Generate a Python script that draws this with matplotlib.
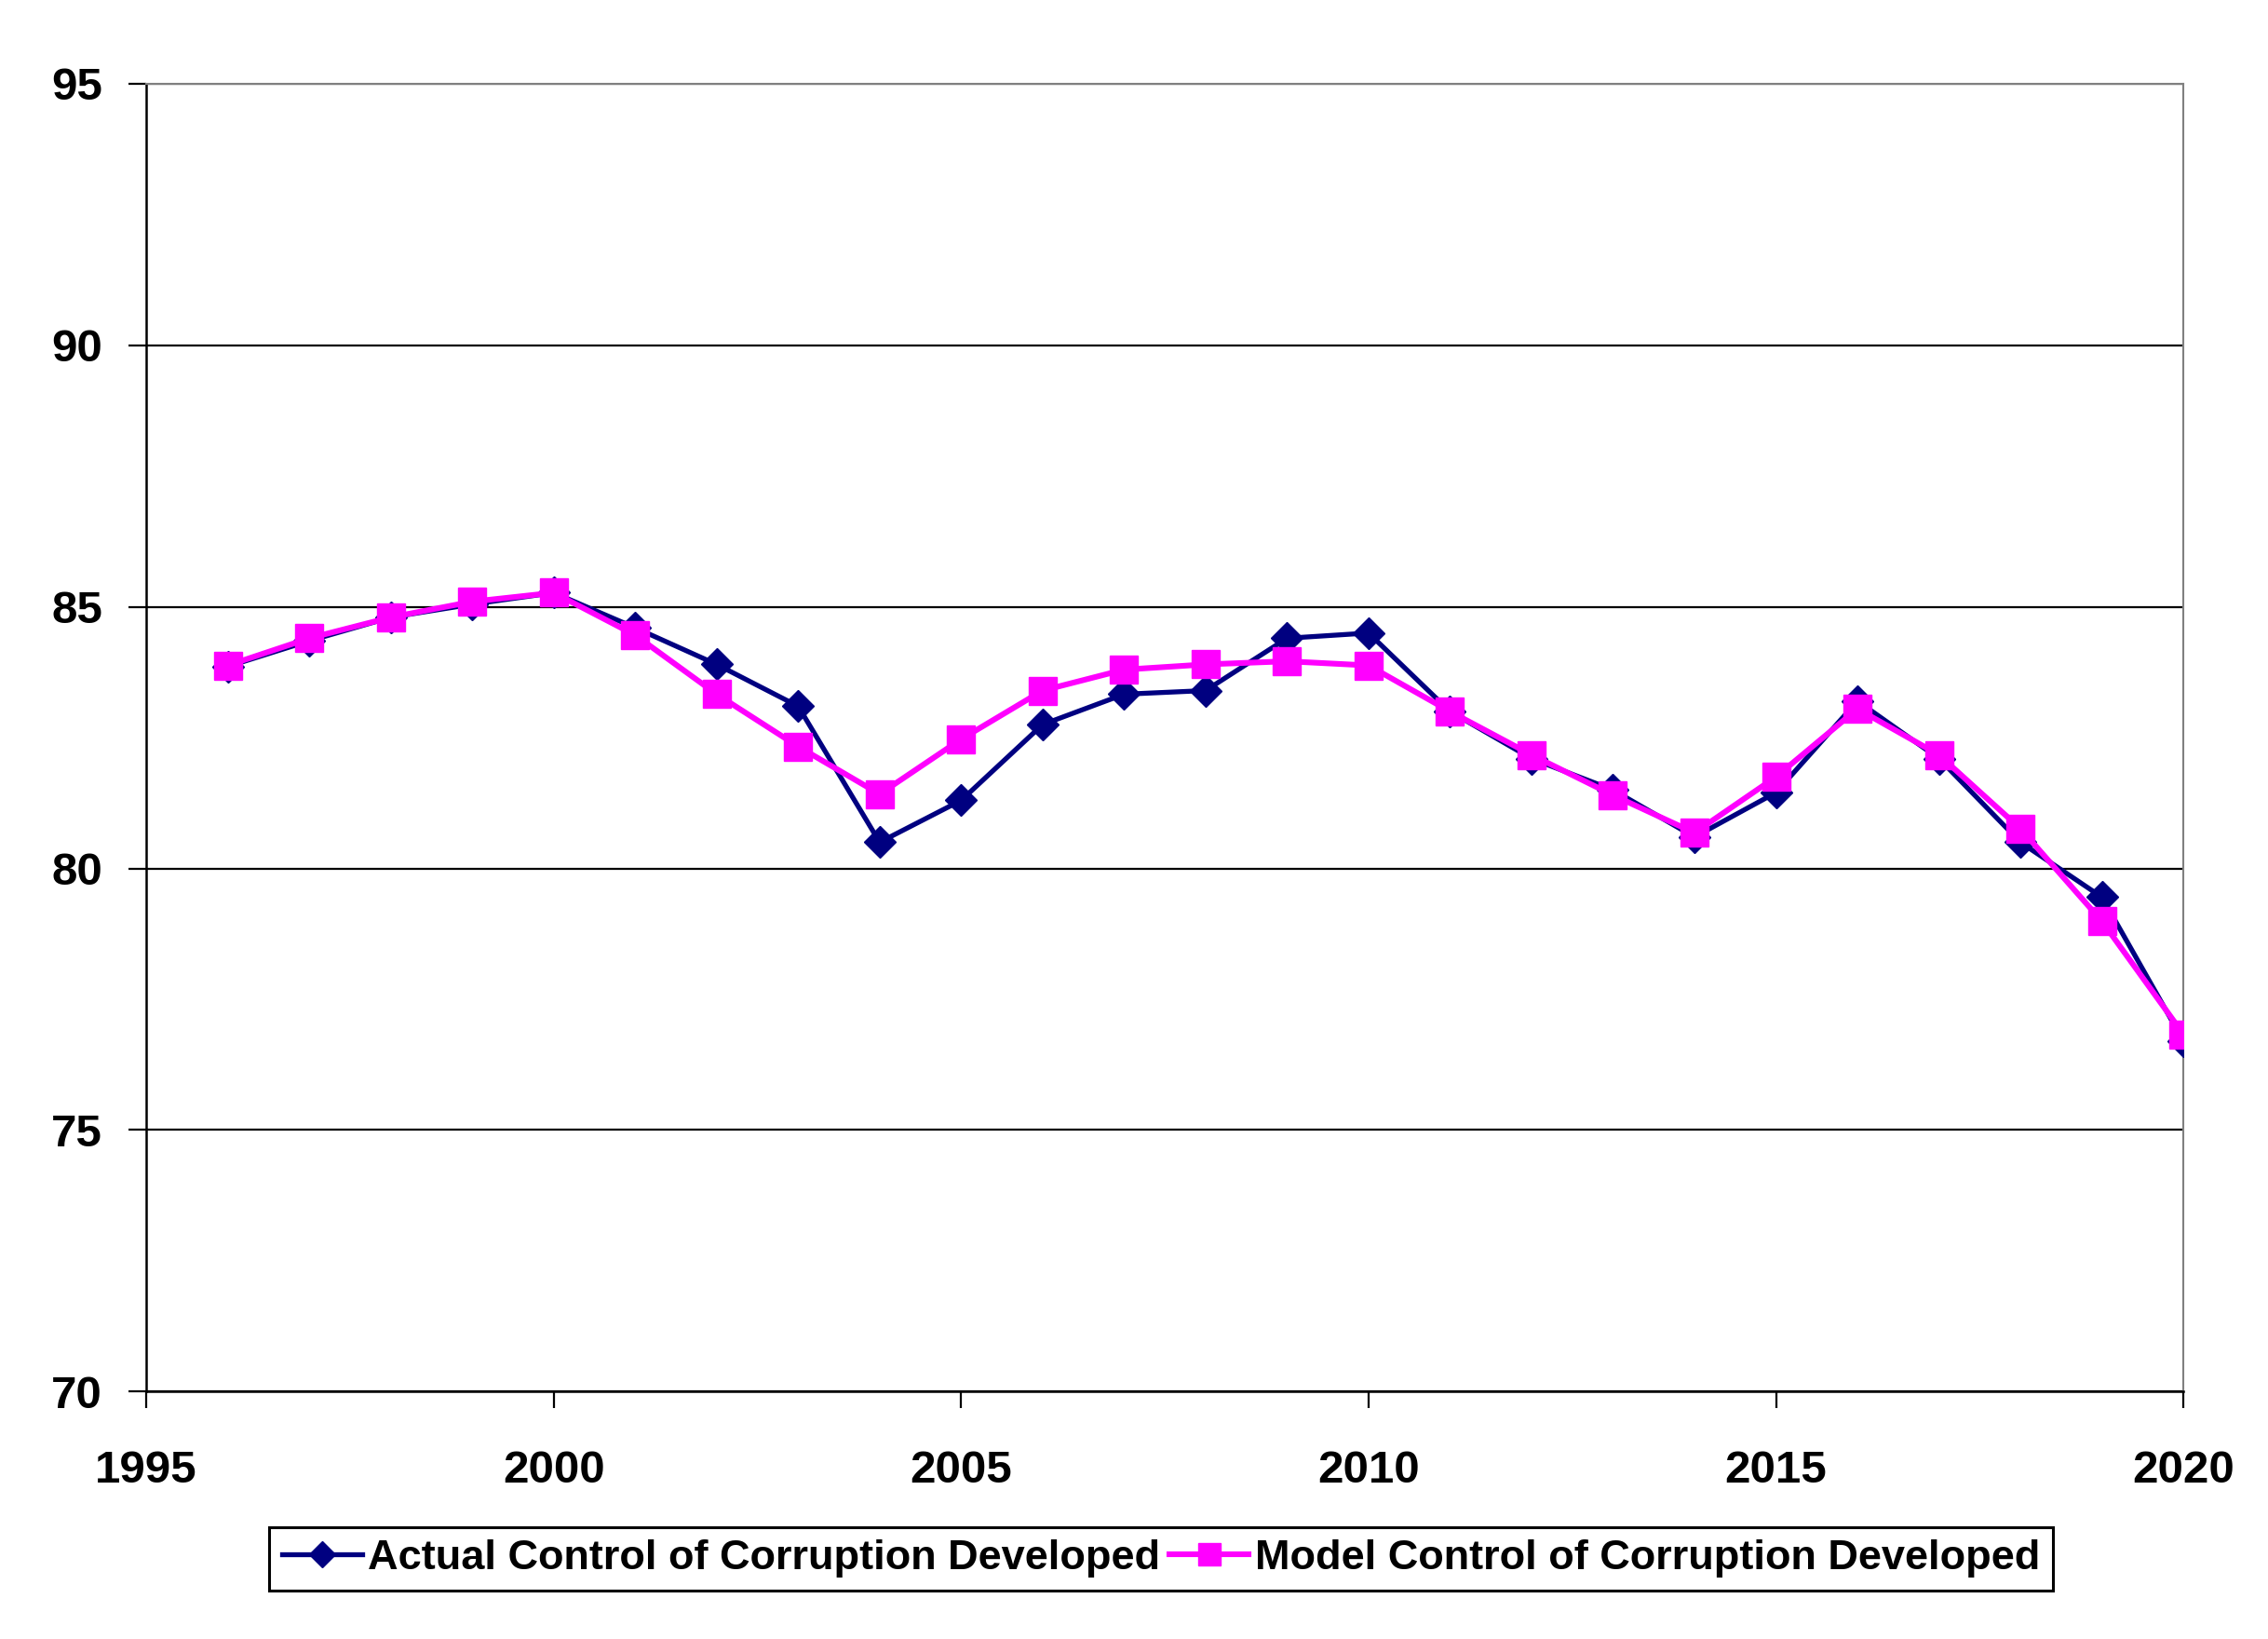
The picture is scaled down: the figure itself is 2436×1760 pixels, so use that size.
import matplotlib
matplotlib.use('Agg')
import matplotlib.pyplot as plt

NAVY = '#000080'
MAGENTA = '#FF00FF'

plt.rcParams['font.family'] = ['Liberation Sans', 'DejaVu Sans']
plt.rcParams['font.weight'] = 'bold'

years = list(range(1996, 2021))
actual = [83.86, 84.35, 84.8, 85.05, 85.27, 84.6, 83.9, 83.1, 80.5, 81.3,
          82.75, 83.33, 83.4, 84.4, 84.5, 83.0, 82.1, 81.5, 80.6, 81.45,
          83.2, 82.1, 80.5, 79.45, 76.7]
model = [83.88, 84.4, 84.8, 85.1, 85.27, 84.46, 83.33, 82.33, 81.42, 82.47,
         83.4, 83.8, 83.9, 83.96, 83.88, 83.0, 82.17, 81.4, 80.68, 81.75,
         83.05, 82.17, 80.76, 78.99, 76.83]
labels = ['Actual Control of Corruption Developed',
          'Model Control of Corruption Developed']
x_ticks = [1995, 2000, 2005, 2010, 2015, 2020]
y_ticks = [70, 75, 80, 85, 90, 95]

fig = plt.figure(figsize=(24.36, 17.6), dpi=100)
ax = fig.add_axes([0.0645, 0.151, 0.8982, 0.7979])

ax.plot(years, actual, color=NAVY, linewidth=3.8, marker='D', markersize=17,
        label=labels[0], zorder=3)
ax.plot(years, model, color=MAGENTA, linewidth=4.4, marker='s', markersize=21,
        label=labels[1], zorder=4)

ax.set_xlim(1995, 2020)
ax.set_ylim(70, 95)
ax.set_xticks(x_ticks)
ax.set_yticks(y_ticks)
ax.yaxis.grid(True, color='black', linewidth=1.6)
ax.set_axisbelow(True)

for side in ('top', 'right'):
    ax.spines[side].set_color('#808080')
    ax.spines[side].set_linewidth(1.5)
for side in ('left', 'bottom'):
    ax.spines[side].set_color('black')
    ax.spines[side].set_linewidth(1.8)

ax.tick_params(axis='y', direction='out', length=14, width=1.6, pad=20, labelsize=35.5)
ax.tick_params(axis='x', direction='out', length=13, width=1.6, pad=32, labelsize=35.5)

leg = ax.legend(loc='center', bbox_to_anchor=(0.512, 0.049), bbox_transform=fig.transFigure,
                ncol=2, fontsize=32.5, frameon=True, fancybox=False, framealpha=1,
                edgecolor='black', handlelength=1.9, handletextpad=0.15,
                columnspacing=0.2, borderpad=0.3, borderaxespad=0,
                markerscale=0.85)
leg.get_frame().set_linewidth(2.2)

fig.savefig('out.png', dpi=100, facecolor='white')
